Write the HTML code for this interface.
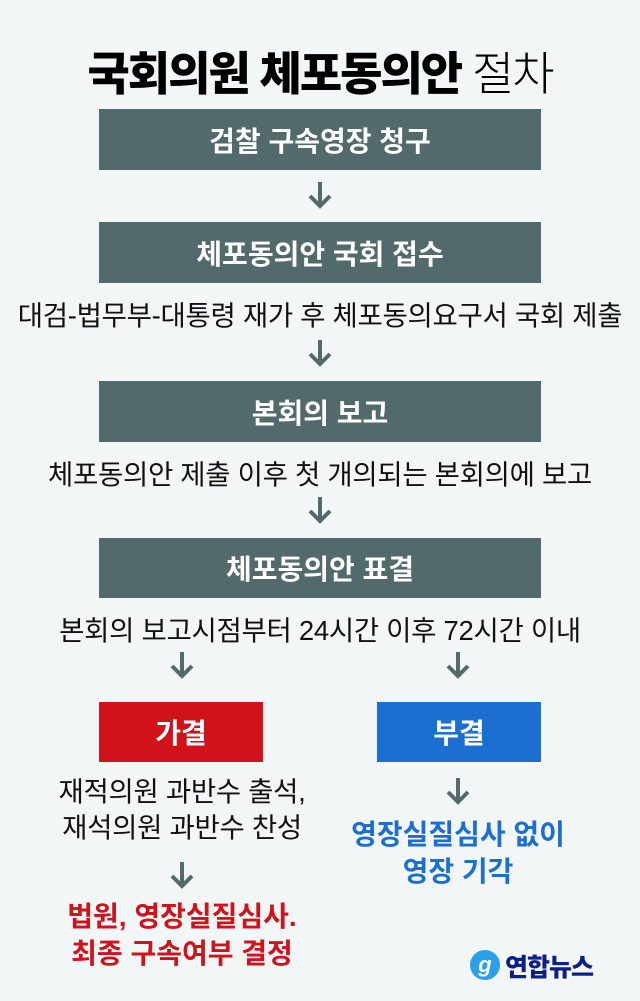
<!DOCTYPE html>
<html><head><meta charset="utf-8"><style>
body{margin:0;width:640px;height:1001px;background:#f3f6f6;position:relative;overflow:hidden;font-family:"Liberation Sans","Noto Sans CJK KR",sans-serif;}
.a{position:absolute;}
.t{position:absolute;left:0;width:640px;text-align:center;white-space:nowrap;}
.box{position:absolute;background:#536a6c;color:#fff;font-weight:bold;font-size:28px;display:flex;align-items:center;justify-content:center;}
.txt{font-size:27.5px;color:#111;letter-spacing:-0.3px;}
svg.arr{position:absolute;width:30px;height:30px;}
</style></head><body>
<div class="t" style="top:38px;font-size:46px;font-weight:900;letter-spacing:-2px;color:#000;">국회의원 체포동의안 <span style="font-weight:300">절차</span></div>
<div class="box" style="left:99px;top:109px;width:442px;height:61px;">검찰 구속영장 청구</div>
<svg class="arr" style="left:305px;top:180px" viewBox="0 0 30 30"><path d="M15 2V26M5 16L15 26L25 16" stroke="#536a6c" stroke-width="4" fill="none"/></svg>
<div class="box" style="left:99px;top:222px;width:442px;height:61px;">체포동의안 국회 접수</div>
<div class="t txt" style="top:293px;">대검-법무부-대통령 재가 후 체포동의요구서 국회 제출</div>
<svg class="arr" style="left:305px;top:338px" viewBox="0 0 30 30"><path d="M15 2V26M5 16L15 26L25 16" stroke="#536a6c" stroke-width="4" fill="none"/></svg>
<div class="box" style="left:99px;top:381px;width:442px;height:61px;">본회의 보고</div>
<div class="t txt" style="top:452px;">체포동의안 제출 이후 첫 개의되는 본회의에 보고</div>
<svg class="arr" style="left:305px;top:495px" viewBox="0 0 30 30"><path d="M15 2V26M5 16L15 26L25 16" stroke="#536a6c" stroke-width="4" fill="none"/></svg>
<div class="box" style="left:99px;top:538px;width:442px;height:60px;">체포동의안 표결</div>
<div class="t txt" style="top:608px;">본회의 보고시점부터 24시간 이후 72시간 이내</div>
<svg class="arr" style="left:167px;top:650px" viewBox="0 0 30 30"><path d="M15 2V26M5 16L15 26L25 16" stroke="#536a6c" stroke-width="4" fill="none"/></svg>
<svg class="arr" style="left:443px;top:650px" viewBox="0 0 30 30"><path d="M15 2V26M5 16L15 26L25 16" stroke="#536a6c" stroke-width="4" fill="none"/></svg>
<div class="box" style="left:99px;top:702px;width:164px;height:60px;background:#d0121b;">가결</div>
<div class="box" style="left:377px;top:702px;width:164px;height:60px;background:#1a6fd0;">부결</div>
<div class="a txt" style="left:20px;width:324px;top:774px;text-align:center;line-height:36px;">재적의원 과반수 출석,<br>재석의원 과반수 찬성</div>
<svg class="arr" style="left:443px;top:776px" viewBox="0 0 30 30"><path d="M15 2V26M5 16L15 26L25 16" stroke="#536a6c" stroke-width="4" fill="none"/></svg>
<div class="a" style="left:310px;width:296px;top:816px;text-align:center;line-height:37px;font-size:28px;font-weight:bold;color:#1a6fd0;">영장실질심사 없이<br>영장 기각</div>
<svg class="arr" style="left:167px;top:860px" viewBox="0 0 30 30"><path d="M15 2V26M5 16L15 26L25 16" stroke="#536a6c" stroke-width="4" fill="none"/></svg>
<div class="a" style="left:20px;width:324px;top:898px;text-align:center;line-height:37px;font-size:28px;font-weight:bold;color:#d0121b;">법원, 영장실질심사.<br>최종 구속여부 결정</div>
<div class="a" style="left:470px;top:950px;width:30px;height:30px;border-radius:50%;background:#2aa0e8;color:#fff;font-weight:bold;font-style:italic;font-size:22px;text-align:center;line-height:30px;">g</div>
<div class="a" style="left:505px;top:948px;font-size:25px;font-weight:900;color:#0d1f8a;letter-spacing:-1px;">연합뉴스</div>
</body></html>
